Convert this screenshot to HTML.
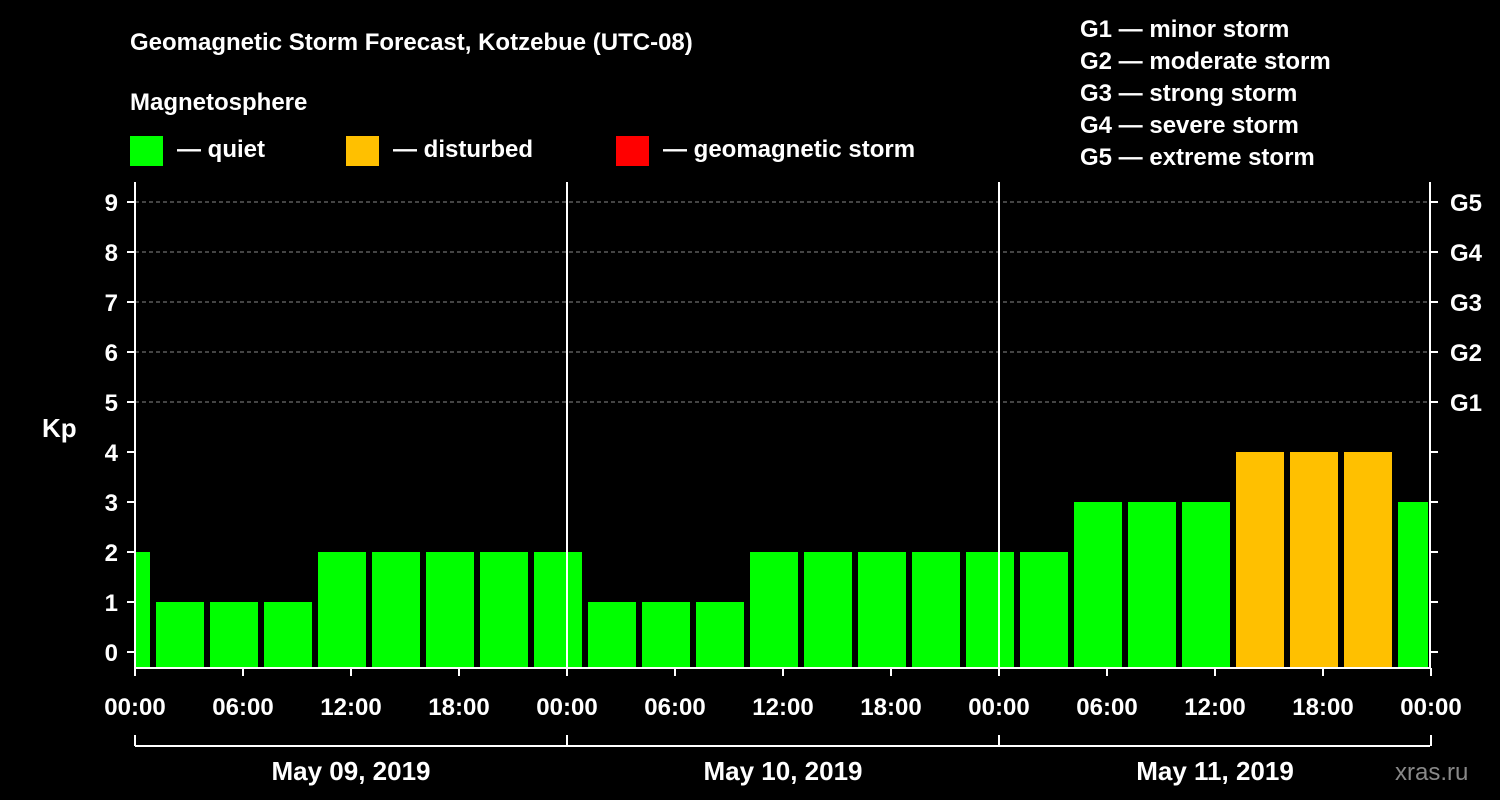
<!DOCTYPE html>
<html><head><meta charset="utf-8"><style>
body{margin:0;background:#000;}
svg{display:block;font-family:"Liberation Sans",sans-serif;font-weight:bold;}
</style></head><body>
<svg id="chart" width="1500" height="800" viewBox="0 0 1500 800">
<rect width="1500" height="800" fill="#000"/>
<text x="130" y="50" fill="#fff" font-size="24">Geomagnetic Storm Forecast, Kotzebue (UTC-08)</text>
<text x="130" y="110" fill="#fff" font-size="24">Magnetosphere</text>
<g><rect x="130" y="136" width="33" height="30" fill="#00ff00"/><text x="177" y="157" fill="#fff" font-size="24">— quiet</text></g>
<g><rect x="346" y="136" width="33" height="30" fill="#ffc000"/><text x="393" y="157" fill="#fff" font-size="24">— disturbed</text></g>
<g><rect x="616" y="136" width="33" height="30" fill="#ff0000"/><text x="663" y="157" fill="#fff" font-size="24">— geomagnetic storm</text></g>
<g fill="#fff" font-size="24">
<text x="1080" y="37">G1 — minor storm</text><text x="1080" y="69">G2 — moderate storm</text><text x="1080" y="101">G3 — strong storm</text><text x="1080" y="133">G4 — severe storm</text><text x="1080" y="165">G5 — extreme storm</text>
</g>
<text x="42" y="437" fill="#fff" font-size="26">Kp</text>
<text x="1395" y="780" fill="#888" font-size="24" font-weight="normal">xras.ru</text>
<g id="plot"></g>
</svg>
<script>
const kpValues=[2,1,1,1,2,2,2,2,2,1,1,1,2,2,2,2,2,2,3,3,3,4,4,4,3];
const xTickLabels=["00:00","06:00","12:00","18:00","00:00","06:00","12:00","18:00","00:00","06:00","12:00","18:00","00:00"];
const dateLabels=["May 09, 2019","May 10, 2019","May 11, 2019"];
const gLabels=["G1","G2","G3","G4","G5"];
const NS="http://www.w3.org/2000/svg";
const g=document.getElementById('plot');
const X0=135,X1=1430,YT=182,YB=668;
const x=h=>X0+h*18;
const y=k=>652-k*50;
function mk(t,a){const e=document.createElementNS(NS,t);for(const k in a)e.setAttribute(k,a[k]);g.appendChild(e);return e;}
// gridlines
for(let k=5;k<=9;k++){const l=mk('line',{x1:X0,x2:X1,y1:y(k),y2:y(k),stroke:'#888','stroke-dasharray':'4,3'});

}
// bars
kpValues.forEach((v,i)=>{let a=Math.max(X0,x(3*i-2)+3),b=Math.min(X1-2,x(3*i+1)-3);
const r=mk('rect',{x:a,y:y(v),width:b-a,height:YB-y(v),fill:v>=5?'#ff0000':v>=4?'#ffc000':'#00ff00'});

});
// axes
mk('line',{x1:X0,x2:X0,y1:YT,y2:YB,stroke:'#fff','stroke-width':2});
mk('line',{x1:X1,x2:X1,y1:YT,y2:YB,stroke:'#fff','stroke-width':2});
mk('line',{x1:X0,x2:X1,y1:YB,y2:YB,stroke:'#fff','stroke-width':2});
[24,48].forEach(h=>mk('line',{x1:x(h),x2:x(h),y1:YT,y2:YB,stroke:'#fff','stroke-width':2}));
for(let k=0;k<=9;k++){
mk('line',{x1:X0-8,x2:X0,y1:y(k),y2:y(k),stroke:'#fff','stroke-width':2});
mk('line',{x1:X1,x2:X1+8,y1:y(k),y2:y(k),stroke:'#fff','stroke-width':2});
const t=mk('text',{x:118,y:y(k)+9,fill:'#fff','font-size':24,'text-anchor':'end'});t.textContent=k;

}
gLabels.forEach((s,i)=>{const t=mk('text',{x:1450,y:y(5+i)+9,fill:'#fff','font-size':24});t.textContent=s;

});
xTickLabels.forEach((s,i)=>{mk('line',{x1:x(6*i),x2:x(6*i),y1:YB,y2:YB+8,stroke:'#fff','stroke-width':2});
const t=mk('text',{x:x(6*i),y:715,fill:'#fff','font-size':24,'text-anchor':'middle'});t.textContent=s;

});
mk('line',{x1:X0,x2:X1,y1:746,y2:746,stroke:'#fff','stroke-width':2});
[0,24,48,72].forEach(h=>mk('line',{x1:x(h),x2:x(h),y1:735,y2:746,stroke:'#fff','stroke-width':2}));
dateLabels.forEach((s,i)=>{const t=mk('text',{x:x(24*i+12),y:780,fill:'#fff','font-size':26,'text-anchor':'middle'});t.textContent=s;

});
</script>
</body></html>
